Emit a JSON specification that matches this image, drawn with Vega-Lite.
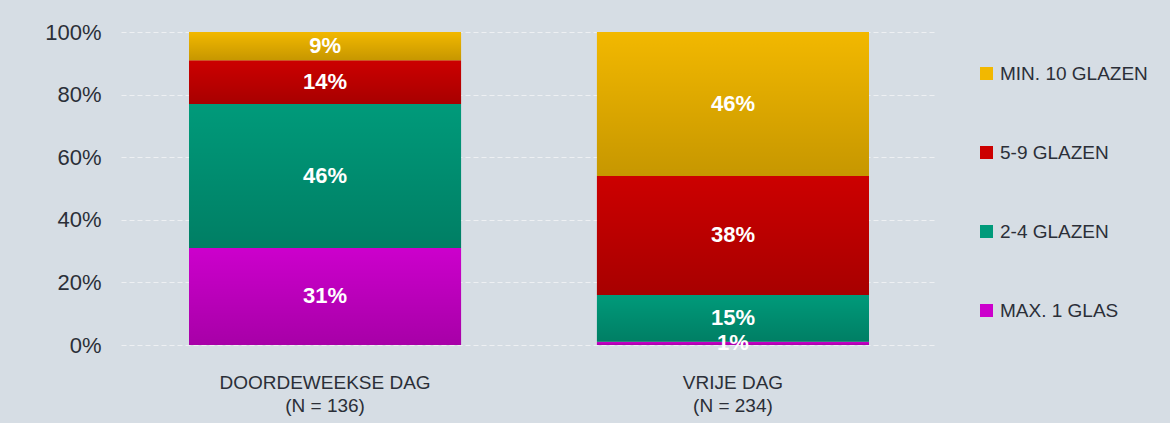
{
  "$schema": "https://vega.github.io/schema/vega-lite/v6.json",
  "autosize": {"type": "none"},
  "width": 816,
  "height": 313,
  "padding": {"left": 121, "top": 32, "right": 233, "bottom": 78},
  "background": "#d6dde4",
  "config": {
    "font": "Liberation Sans",
    "view": {"stroke": null}
  },
  "data": {
    "values": [
      {"dag": "DOORDEWEEKSE DAG|(N = 136)", "cat": "MAX. 1 GLAS", "k": 1, "v": 0.31},
      {"dag": "DOORDEWEEKSE DAG|(N = 136)", "cat": "2-4 GLAZEN", "k": 2, "v": 0.46},
      {"dag": "DOORDEWEEKSE DAG|(N = 136)", "cat": "5-9 GLAZEN", "k": 3, "v": 0.14},
      {"dag": "DOORDEWEEKSE DAG|(N = 136)", "cat": "MIN. 10 GLAZEN", "k": 4, "v": 0.09},
      {"dag": "VRIJE DAG|(N = 234)", "cat": "MAX. 1 GLAS", "k": 1, "v": 0.01},
      {"dag": "VRIJE DAG|(N = 234)", "cat": "2-4 GLAZEN", "k": 2, "v": 0.15},
      {"dag": "VRIJE DAG|(N = 234)", "cat": "5-9 GLAZEN", "k": 3, "v": 0.38},
      {"dag": "VRIJE DAG|(N = 234)", "cat": "MIN. 10 GLAZEN", "k": 4, "v": 0.46}
    ]
  },
  "transform": [
    {"stack": "v", "groupby": ["dag"], "sort": [{"field": "k", "order": "ascending"}], "as": ["y0", "y1"]}
  ],
  "encoding": {
    "x": {
      "field": "dag",
      "type": "nominal",
      "sort": null,
      "title": null,
      "scale": {"paddingInner": 0.333, "paddingOuter": 0.1667},
      "axis": {
        "labelExpr": "split(datum.label, '|')",
        "labelAngle": 0,
        "labelFontSize": 19,
        "labelLineHeight": 23,
        "labelLimit": 400,
        "labelColor": "#2b2f38",
        "labelPadding": 28,
        "ticks": false,
        "domain": false
      }
    }
  },
  "layer": [
    {
      "mark": {"type": "bar"},
      "encoding": {
        "y": {
          "field": "y0",
          "type": "quantitative",
          "scale": {"domain": [0, 1]},
          "title": null,
          "axis": {
            "format": ".0%",
            "values": [0, 0.2, 0.4, 0.6, 0.8, 1],
            "labelFontSize": 22,
            "labelColor": "#2b2f38",
            "labelPadding": 20,
            "ticks": false,
            "domain": false,
            "grid": true,
            "gridColor": "#eef0f3",
            "gridDash": [5, 3],
            "gridWidth": 1
          }
        },
        "y2": {"field": "y1"},
        "color": {
          "field": "cat",
          "type": "nominal",
          "scale": {
            "domain": ["MIN. 10 GLAZEN", "5-9 GLAZEN", "2-4 GLAZEN", "MAX. 1 GLAS"],
            "range": ["#f2b800", "#cc0000", "#009a7a", "#cc00cc"]
          },
          "legend": {
            "title": null,
            "orient": "none",
            "legendX": 856,
            "legendY": 32,
            "symbolType": "square",
            "symbolSize": 170,
            "symbolStrokeWidth": 0,
            "symbolOpacity": 1,
            "labelFontSize": 19,
            "labelColor": "#2b2f38",
            "labelOffset": 4,
            "rowPadding": 59
          }
        }
      }
    },
    {
      "mark": {
        "type": "bar",
        "fill": {
          "gradient": "linear",
          "x1": 0, "y1": 0, "x2": 0, "y2": 1,
          "stops": [
            {"offset": 0, "color": "rgba(0,0,0,0)"},
            {"offset": 1, "color": "rgba(0,0,0,0.18)"}
          ]
        }
      },
      "encoding": {
        "y": {"field": "y0", "type": "quantitative"},
        "y2": {"field": "y1"}
      }
    },
    {
      "transform": [
        {"fold": ["y0", "y1"], "as": ["edge", "pos"]}
      ],
      "mark": {"type": "text", "color": "white", "fontWeight": "bold", "fontSize": 22, "baseline": "middle"},
      "encoding": {
        "y": {"field": "pos", "type": "quantitative", "aggregate": "mean"},
        "detail": {"field": "cat", "type": "nominal"},
        "text": {"field": "v", "type": "quantitative", "format": ".0%"}
      }
    }
  ]
}
